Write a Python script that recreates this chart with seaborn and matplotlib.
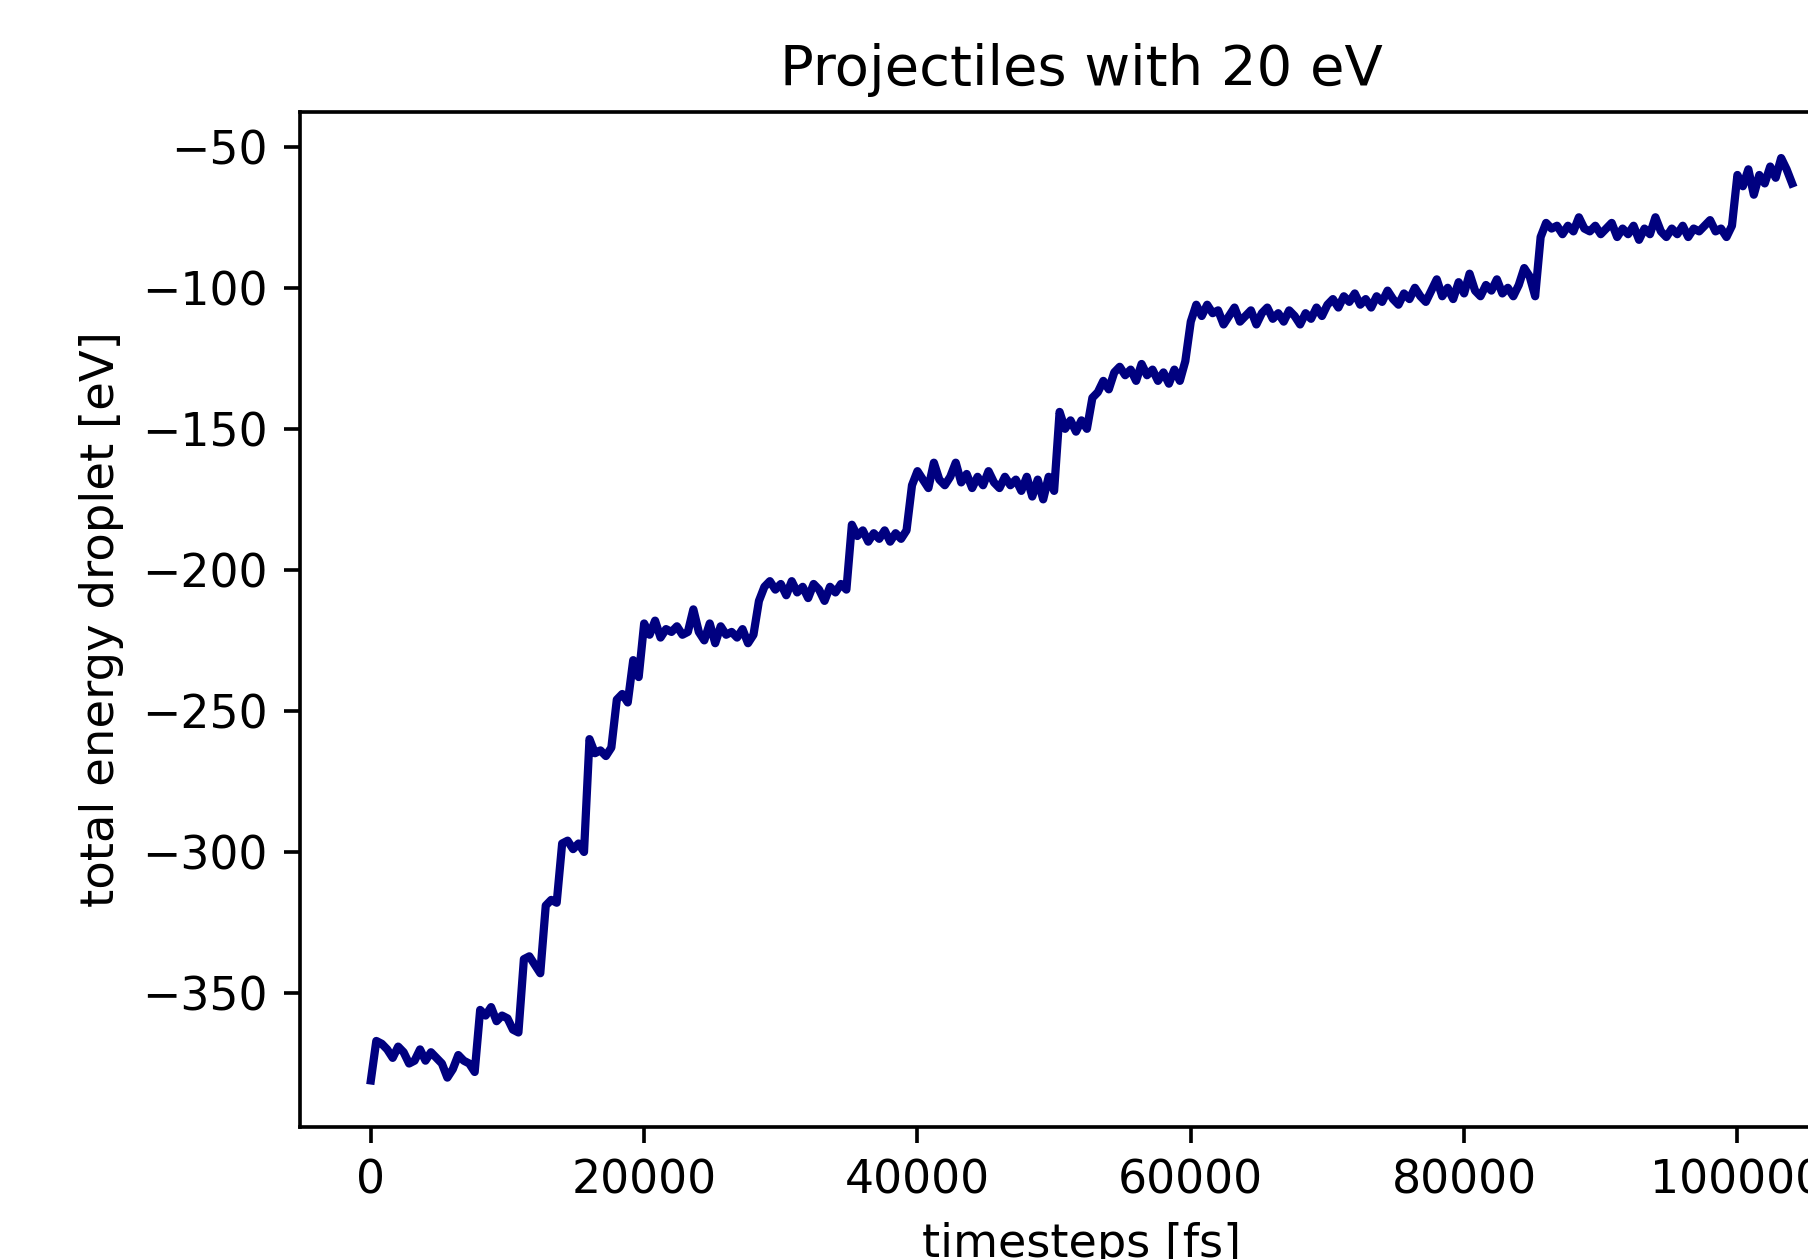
import numpy as np
import pandas as pd
import matplotlib
matplotlib.use("Agg")
import matplotlib.pyplot as plt
import seaborn as sns

# sample times [fs] (one sample every 400 fs)
timesteps = np.arange(0, 104001, 400)

# total energy of the droplet [eV]
energy_a = [-381, -367, -368, -370, -373, -369, -371, -375, -374, -370,
            -374, -371, -373, -375, -380, -377, -372, -374, -375, -378]
energy_b = [-356, -358, -355, -360, -358, -359, -363, -364]
energy_c = [-338, -337, -340, -343]
energy_d = [-319, -317, -318]
energy_e = [-297, -296, -299, -297, -300]
energy_f = [-260, -265, -264, -266, -263, -246, -244, -247, -232, -238]
energy_g = [-219, -223, -218, -224, -221, -222, -220, -223, -222, -214,
            -222, -225, -219, -226, -220, -223, -222, -224, -221, -226, -223]
energy_h = [-211, -206, -204, -207, -205, -209, -204, -208, -206, -210,
            -205, -207, -211, -206, -208, -205, -207]
energy_i = [-184, -188, -186, -190, -187, -189, -186, -190, -187, -189, -186]
energy_j = [-170, -165, -168, -171, -162, -168, -170, -167, -162, -169,
            -166, -171, -167, -170, -165, -169, -171, -167, -170, -168,
            -172, -167, -174, -168, -175, -167, -172]
energy_k = [-144, -150, -147, -151, -147, -150, -139, -137, -133, -136]
energy_l = [-130, -128, -131, -129, -133, -127, -131, -129, -133, -130,
            -134, -129, -133, -126]
energy_m = [-112, -106, -110, -106, -109, -108, -113, -110, -107, -112,
            -110, -108, -113, -109, -107, -111, -109, -112, -108, -110,
            -113, -109, -111, -107, -110, -106, -104, -107, -103, -105,
            -102, -106, -104, -107, -103, -105, -101, -104, -106, -102,
            -104, -100, -103, -105, -101, -97, -103, -100, -104, -98,
            -102, -95, -101, -103, -99, -101, -97, -102, -100, -103,
            -99, -93, -96, -103]
energy_n = [-82, -77, -79, -78, -81, -78, -80, -75, -79, -80,
            -78, -81, -79, -77, -82, -79, -81, -78, -83, -79,
            -81, -75, -80, -82, -79, -81, -78, -82, -79, -80,
            -78, -76, -80, -79, -82, -78]
energy_o = [-60, -64, -58, -67, -60, -63, -57, -61, -54, -58, -63]

energy = (energy_a + energy_b + energy_c + energy_d + energy_e + energy_f +
          energy_g + energy_h + energy_i + energy_j + energy_k + energy_l +
          energy_m + energy_n + energy_o)

df = pd.DataFrame({"timesteps": timesteps[:len(energy)], "energy": energy})

plt.style.use("default")
DPI = 329
fig = plt.figure(figsize=(1808 / DPI, 1259 / DPI), dpi=DPI)
ax = fig.add_axes([0.1658, 0.1052, 0.8647, 0.8059])

sns.lineplot(data=df, x="timesteps", y="energy", ax=ax, color="navy",
             linewidth=1.8, estimator=None)

ax.set_title("Projectiles with 20 eV", fontsize=12.25)
ax.set_xlabel("timesteps [fs]", fontsize=10.1)
ax.set_ylabel("total energy droplet [eV]", fontsize=10.2)
ax.tick_params(labelsize=10)
ax.set_xticks([0, 20000, 40000, 60000, 80000, 100000])
ax.set_yticks([-50, -100, -150, -200, -250, -300, -350])

fig.savefig("out.png", dpi=DPI)
